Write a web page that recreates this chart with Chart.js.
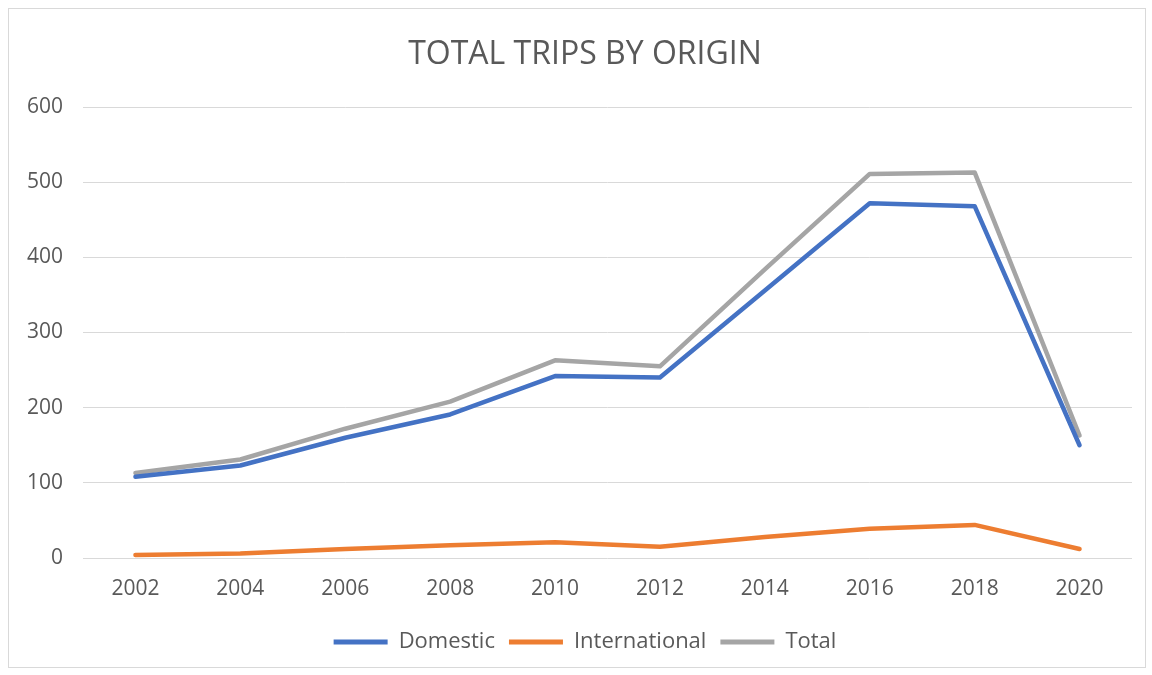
<!DOCTYPE html>
<html>
<head>
<meta charset="utf-8">
<script src="https://cdn.jsdelivr.net/npm/chart.js@4/dist/chart.umd.min.js"></script>
<style>
  html, body { margin: 0; padding: 0; background: #ffffff; }
  #wrap { width: 1152px; height: 675px; position: relative; }
</style>
</head>
<body>
<div id="wrap"><canvas id="chart" width="1152" height="675"></canvas></div>
<script>
// Survey years on the horizontal axis
const years = ['2002', '2004', '2006', '2008', '2010', '2012', '2014', '2016', '2018', '2020'];

// Trips by origin (thousands)
const domestic      = [108, 123, 160, 191, 242, 240, 356, 472, 468, 150];
const international = [4, 6, 12, 17, 21, 15, 28, 39, 44, 12];
const total         = [113, 131, 172, 208, 263, 255, 384, 511, 513, 163];

const textColor = '#595959';
const gridColor = '#d9d9d9';
const fontFamily = "'Open Sans', 'Liberation Sans', sans-serif";

// White page with a thin frame around the chart
const framePlugin = {
  id: 'frame',
  beforeDraw(chart) {
    const ctx = chart.ctx;
    ctx.save();
    ctx.fillStyle = '#ffffff';
    ctx.fillRect(0, 0, chart.width, chart.height);
    ctx.strokeStyle = gridColor;
    ctx.lineWidth = 1;
    ctx.strokeRect(8.5, 8.5, 1137, 659);
    ctx.restore();
  }
};

const series = [
  { label: 'Domestic', data: domestic, color: '#4472C4' },
  { label: 'International', data: international, color: '#ED7D31' },
  { label: 'Total', data: total, color: '#A5A5A5' }
];

new Chart(document.getElementById('chart'), {
  type: 'line',
  data: {
    labels: years,
    datasets: series.map(s => ({
      label: s.label,
      data: s.data,
      borderColor: s.color,
      backgroundColor: s.color,
      borderWidth: 4.5,
      pointRadius: 0,
      pointHoverRadius: 0,
      tension: 0,
      fill: false,
      borderCapStyle: 'round',
      borderJoinStyle: 'round',
      yAxisID: 'y'
    }))
  },
  plugins: [framePlugin],
  options: {
    responsive: false,
    animation: false,
    layout: { padding: { top: 0, left: 18, right: 0, bottom: 12 } },
    plugins: {
      title: {
        display: true,
        text: 'TOTAL TRIPS BY ORIGIN',
        color: textColor,
        font: { family: fontFamily, size: 32, weight: 'normal', lineHeight: 1.2 },
        padding: { top: 36, bottom: 32.6 }
      },
      legend: {
        display: true,
        position: 'bottom',
        labels: {
          color: textColor,
          font: { family: fontFamily, size: 22 },
          boxWidth: 54,
          boxHeight: 5,
          padding: 14,
          generateLabels(chart) {
            return chart.data.datasets.map((ds, i) => ({
              text: ds.label,
              fillStyle: ds.borderColor,
              strokeStyle: ds.borderColor,
              lineWidth: 0,
              hidden: false,
              datasetIndex: i,
              fontColor: textColor
            }));
          }
        }
      },
      tooltip: { enabled: false }
    },
    scales: {
      x: {
        offset: true,
        grid: { display: false, drawTicks: false },
        border: { display: false },
        ticks: {
          color: textColor,
          font: { family: fontFamily, size: 21 },
          padding: 18,
          maxRotation: 0
        },
        afterFit(scale) { scale.height = 59; }
      },
      y: {
        position: 'left',
        min: 0,
        max: 600,
        grid: { color: gridColor, lineWidth: 1, drawTicks: false },
        border: { display: false },
        ticks: {
          stepSize: 100,
          color: textColor,
          font: { family: fontFamily, size: 21 },
          padding: 20
        },
        afterFit(scale) { scale.width = 65; }
      },
      // empty margin on the right of the plot
      yRight: {
        position: 'right',
        min: 0,
        max: 600,
        grid: { display: false, drawTicks: false },
        border: { display: false },
        ticks: { display: false },
        afterFit(scale) { scale.width = 20; }
      }
    }
  }
});
</script>
</body>
</html>
